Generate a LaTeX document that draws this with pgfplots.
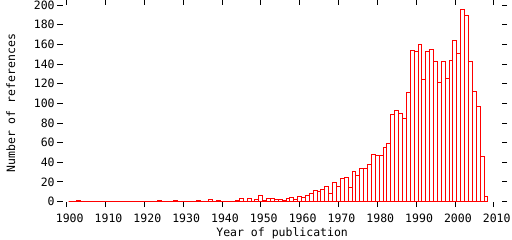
\documentclass[border=0pt]{standalone}
\usepackage{fontspec}
\setmainfont{DejaVu Sans Mono}
\usepackage{pgfplots}
\usepackage{pgfplotstable}
\pgfplotsset{compat=1.18}
\pgfplotstableread{
year count
1901 0
1902 0
1903 1
1904 0
1905 0
1906 0
1907 0
1908 0
1909 0
1910 0
1911 0
1912 0
1913 0
1914 0
1915 0
1916 0
1917 0
1918 0
1919 0
1920 0
1921 0
1922 0
1923 0
1924 1
1925 0
1926 0
1927 0
1928 1
1929 0
1930 0
1931 0
1932 0
1933 0
1934 1
1935 0
1936 0
1937 2
1938 0
1939 1
1940 0
1941 0
1942 0
1943 0
1944 1
1945 3
1946 0
1947 3
1948 0
1949 2
1950 6
1951 1
1952 3
1953 3
1954 2
1955 2
1956 1
1957 3
1958 4
1959 2
1960 5
1961 4
1962 6
1963 8
1964 11
1965 10
1966 12
1967 15
1968 8
1969 19
1970 15
1971 23
1972 24
1973 14
1974 31
1975 26
1976 34
1977 34
1978 38
1979 48
1980 47
1981 47
1982 55
1983 59
1984 89
1985 93
1986 90
1987 84
1988 111
1989 154
1990 153
1991 160
1992 124
1993 153
1994 155
1995 143
1996 121
1997 142
1998 125
1999 144
2000 164
2001 151
2002 195
2003 189
2004 143
2005 112
2006 97
2007 46
2008 5
}\refdata
\begin{document}
\begin{tikzpicture}
\begin{axis}[
  scale only axis,
  width=438.7bp, height=196.5bp,
  xmin=1899, xmax=2012, ymin=0, ymax=200,
  xtick={1900,1910,...,2010},
  ytick={0,20,...,200},
  axis line style={draw=none},
  tick align=outside,
  major tick length=5.5bp,
  tick style={black, line width=0.8bp},
  /pgf/number format/1000 sep={},
  /pgf/number format/assume math mode=true,
  tick label style={font=\fontsize{11.5bp}{13bp}\selectfont},
  xticklabel style={anchor=center, inner sep=0pt, yshift=-11.5bp, xshift=3bp},
  yticklabel style={anchor=east, inner sep=0pt, xshift=-2.5bp},
  xlabel={Year of publication},
  ylabel={Number of references},
  label style={font=\fontsize{11.5bp}{13bp}\selectfont},
  xlabel style={at={(axis description cs:0.5,-0.163)}, anchor=center},
  ylabel style={at={(axis description cs:-0.1185,0.5)}, anchor=center, rotate=0},
]
\coordinate (bl) at (rel axis cs:0,0);
\addplot[ybar, bar width=1, bar shift=0pt, draw=red, fill=white, line width=1bp] table[x=year, y=count] {\refdata};
\end{axis}
\pgfresetboundingbox
\path (bl) ++(-62.8bp,-38.5bp) rectangle ++(512bp,240bp);
\end{tikzpicture}
\end{document}
